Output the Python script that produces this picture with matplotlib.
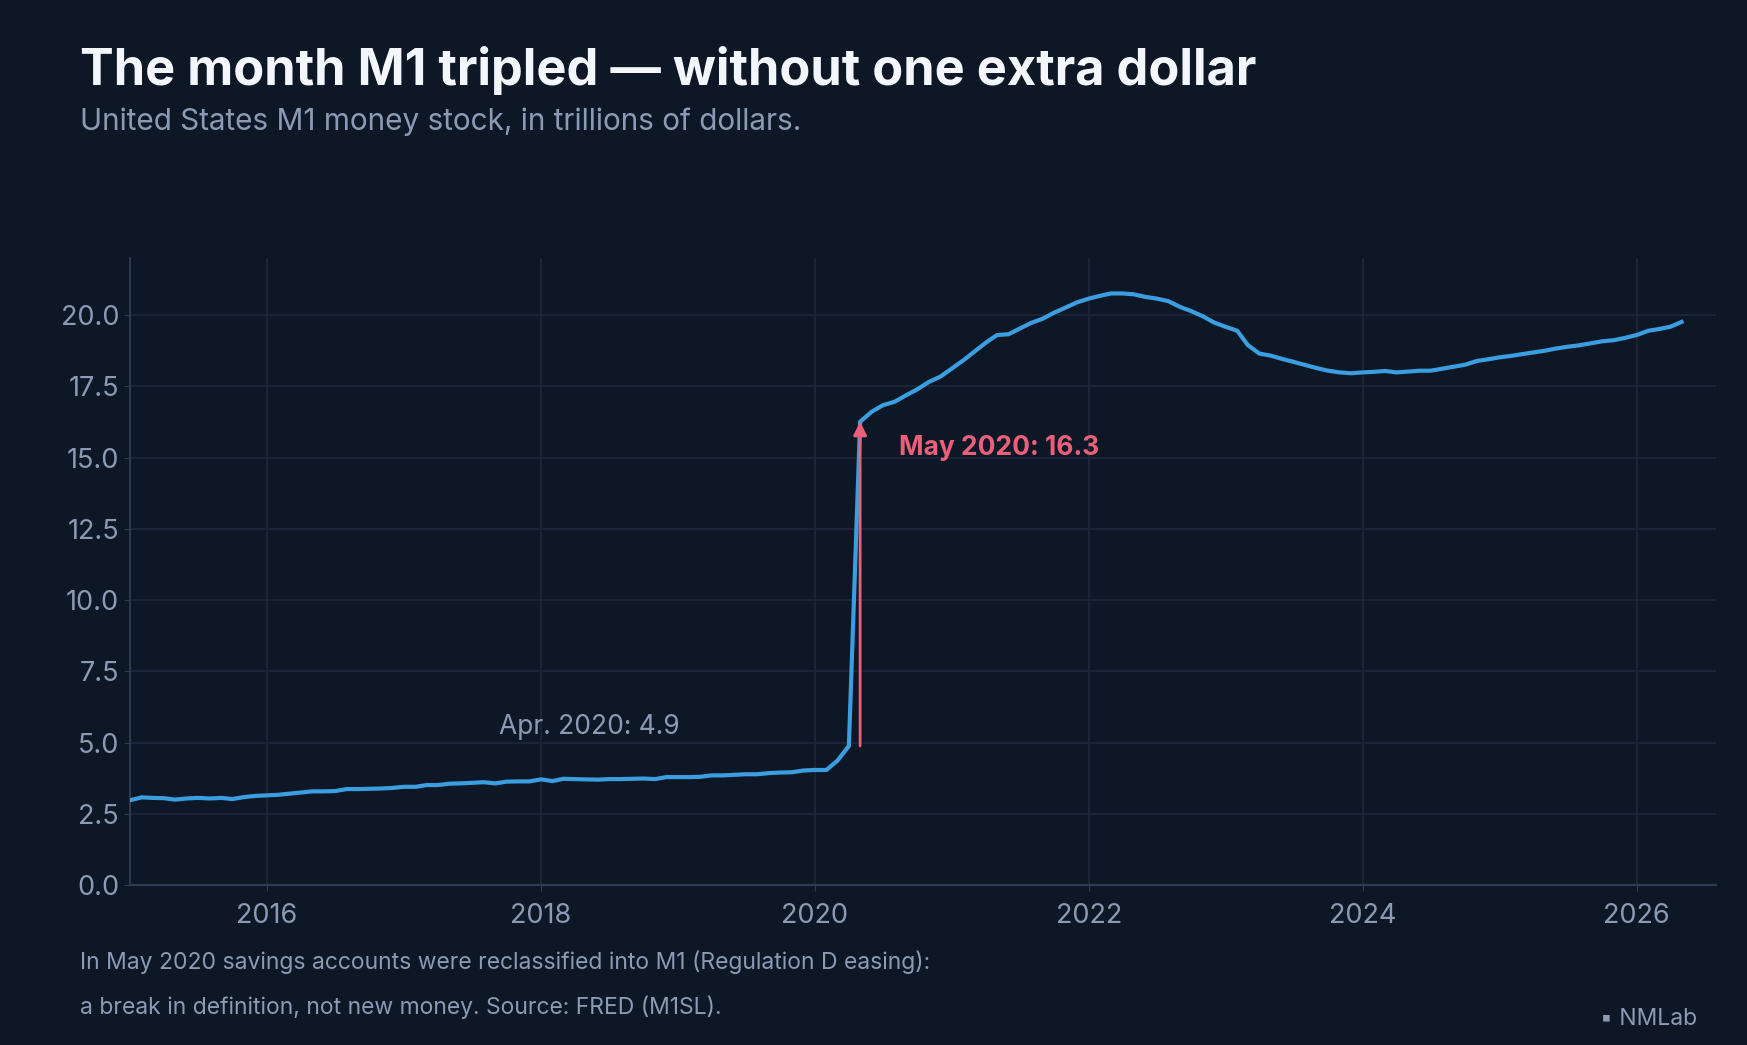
import matplotlib
matplotlib.use("Agg")
import matplotlib.pyplot as plt
import matplotlib.dates as mdates
import numpy as np
import pandas as pd

BG = "#0d1726"
TEXT = "#8c9bb5"
TITLE = "#f3f6fb"
GRID = "#1d293c"
SPINE = "#2f3c53"
BLUE = "#3b9ee0"
RED = "#ea6079"

plt.rcParams['font.family'] = ['Inter', 'DejaVu Sans']

# M1 money stock, trillions of dollars, monthly
m1_2015 = [2.98, 3.08, 3.06, 3.05, 3.00, 3.04, 3.06, 3.04, 3.06, 3.02, 3.09, 3.13]
m1_2016 = [3.15, 3.17, 3.21, 3.25, 3.29, 3.29, 3.30, 3.37, 3.37, 3.38, 3.39, 3.41]
m1_2017 = [3.45, 3.45, 3.51, 3.51, 3.56, 3.57, 3.59, 3.61, 3.57, 3.63, 3.64, 3.64]
m1_2018 = [3.71, 3.65, 3.73, 3.72, 3.71, 3.70, 3.72, 3.72, 3.73, 3.74, 3.72, 3.79]
m1_2019 = [3.79, 3.79, 3.80, 3.85, 3.85, 3.87, 3.89, 3.89, 3.93, 3.95, 3.96, 4.02]
m1_2020 = [4.04, 4.04, 4.36, 4.88, 16.26, 16.61, 16.84, 16.96, 17.19, 17.40, 17.66, 17.84]
m1_2021 = [18.13, 18.42, 18.71, 19.03, 19.30, 19.33, 19.53, 19.73, 19.88, 20.09, 20.27, 20.45]
m1_2022 = [20.58, 20.68, 20.76, 20.76, 20.73, 20.64, 20.58, 20.49, 20.29, 20.14, 19.96, 19.74]
m1_2023 = [19.59, 19.45, 18.95, 18.65, 18.58, 18.46, 18.36, 18.25, 18.14, 18.05, 17.99, 17.96]
m1_2024 = [17.99, 18.01, 18.04, 17.99, 18.02, 18.05, 18.05, 18.12, 18.19, 18.26, 18.39, 18.45]
m1_2025 = [18.52, 18.57, 18.63, 18.69, 18.75, 18.83, 18.89, 18.94, 19.01, 19.08, 19.12, 19.20]
m1_2026 = [19.30, 19.45, 19.51, 19.59, 19.76]

values = (m1_2015 + m1_2016 + m1_2017 + m1_2018 + m1_2019 + m1_2020
          + m1_2021 + m1_2022 + m1_2023 + m1_2024 + m1_2025 + m1_2026)
dates = pd.date_range("2015-01-01", periods=len(values), freq="MS")
m1 = pd.Series(values, index=dates)

apr = pd.Timestamp("2020-04-01")
may = pd.Timestamp("2020-05-01")

fig = plt.figure(figsize=(17.47, 10.45), dpi=100, facecolor=BG)
ax = fig.add_axes([0.0745, 0.153, 0.908, 0.6])
ax.set_facecolor(BG)

ax.plot(m1.index, m1.values, color=BLUE, lw=3.0, solid_joinstyle='round', zorder=3)

# jump arrow
ax.annotate("", xy=(may, m1[may]), xytext=(may, m1[apr]),
            arrowprops=dict(arrowstyle='-|>', color=RED, lw=2.0,
                            mutation_scale=20, shrinkA=0, shrinkB=0),
            zorder=4)
ax.annotate(f"May 2020: {m1[may]:.1f}", xy=(may, m1[may]), xytext=(28, -19),
            textcoords='offset points', color=RED, fontsize=19,
            fontweight='bold', ha='left', va='center')
ax.annotate(f"Apr. 2020: {m1[apr]:.1f}", xy=(apr, m1[apr]), xytext=(-122, 14),
            textcoords='offset points', color=TEXT, fontsize=19,
            ha='right', va='center')

ax.set_xlim(pd.Timestamp("2015-01-01"), pd.Timestamp("2026-08-02"))
ax.set_ylim(0, 22)
ax.set_yticks(np.arange(0, 20.1, 2.5))
ax.yaxis.set_major_formatter(matplotlib.ticker.FormatStrFormatter('%.1f'))
ax.xaxis.set_major_locator(mdates.YearLocator(2))
ax.xaxis.set_major_formatter(mdates.DateFormatter('%Y'))

ax.grid(True, color=GRID, lw=1.1)
ax.set_axisbelow(True)
for s in ['top', 'right']:
    ax.spines[s].set_visible(False)
ax.spines['left'].set_color(SPINE)
ax.spines['left'].set_linewidth(1.3)
ax.spines['bottom'].set_color(SPINE)
ax.spines['bottom'].set_linewidth(1.6)
ax.tick_params(axis='both', colors=SPINE, labelcolor=TEXT, labelsize=19.5, length=4)
ax.tick_params(axis='x', pad=9)
ax.tick_params(axis='y', pad=4)

fig.text(80 / 1747, 1 - 85 / 1045, "The month M1 tripled — without one extra dollar",
         color=TITLE, fontsize=36.4, fontweight='bold', va='baseline', ha='left')
fig.text(80 / 1747, 1 - 130 / 1045, "United States M1 money stock, in trillions of dollars.",
         color=TEXT, fontsize=21.4, va='baseline', ha='left')
fig.text(80 / 1747, 1 - 969 / 1045,
         "In May 2020 savings accounts were reclassified into M1 (Regulation D easing):",
         color=TEXT, fontsize=16.5, va='baseline', ha='left')
fig.text(80 / 1747, 1 - 1014 / 1045,
         "a break in definition, not new money. Source: FRED (M1SL).",
         color=TEXT, fontsize=16.5, va='baseline', ha='left')
fig.text(1697 / 1747, 1 - 1025 / 1045, "▪ NMLab", color=TEXT, fontsize=16.5,
         va='baseline', ha='right')

fig.savefig("out.png", dpi=100, facecolor=BG)
